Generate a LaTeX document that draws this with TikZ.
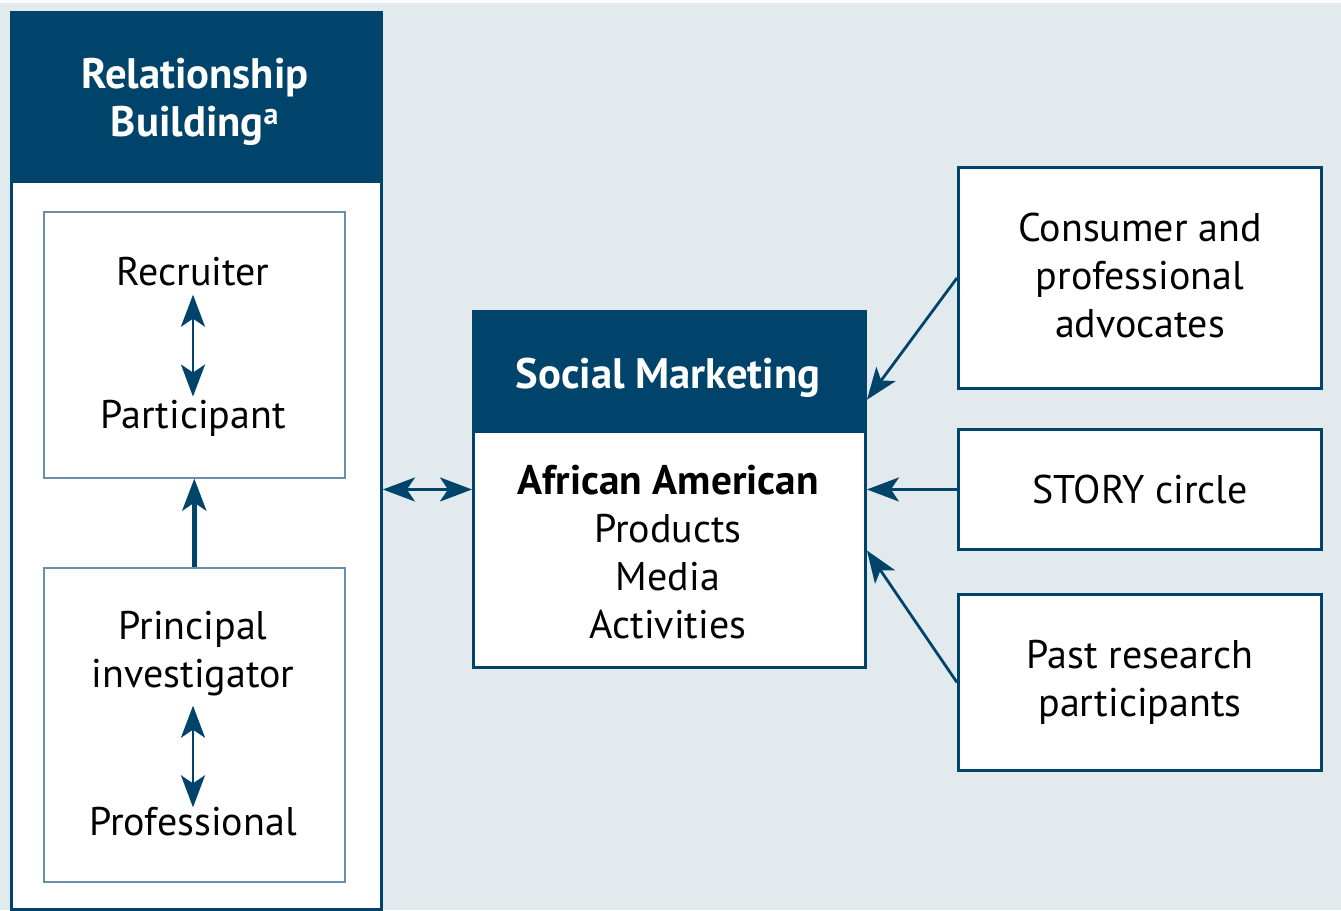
\documentclass[tikz,border=0pt]{standalone}
\usepackage{fontspec}
\setmainfont{PT Sans}
\usetikzlibrary{arrows.meta,calc}
\definecolor{navy}{HTML}{00446B}
\definecolor{panel}{HTML}{E3EAEE}
\definecolor{thinedge}{HTML}{6A8FA9}
\begin{document}
\begin{tikzpicture}[x=0.75pt,y=-0.75pt,
  every node/.style={font=\fontsize{30}{36}\selectfont, text=black},
  frame/.style={draw=navy, line width=2.2pt, fill=white, anchor=north west, inner sep=0pt},
  header/.style={fill=navy, anchor=north west, inner sep=0pt},
  headtext/.style={align=center, inner sep=0pt, text=white,
    font=\fontsize{32}{36}\selectfont\bfseries},
  subbox/.style={draw=thinedge, line width=1.2pt, fill=white, anchor=north west, inner sep=0pt},
  label/.style={align=center, inner sep=0pt},
  tip/.style={Stealth[length=24pt,width=18pt,inset=6pt]},
  link/.style={draw=navy, line width=2.1pt, -{Stealth[length=24pt,width=18pt,inset=6pt]}},
  twoway/.style={draw=navy, line width=2.1pt,
    {Stealth[length=24pt,width=18pt,inset=6pt]}-{Stealth[length=24pt,width=18pt,inset=6pt]}},
  bold link/.style={draw=navy, line width=3.6pt, -{Stealth[length=24pt,width=18pt,inset=6pt]}}
]
\useasboundingbox (0,0) rectangle (1341,910);
\fill[panel] (0,3) rectangle (1341,910);

% Relationship building column
\node[frame, minimum width=370*0.75pt, minimum height=897*0.75pt] (rb) at (10,11) {};
\node[header, minimum width=370*0.75pt, minimum height=172*0.75pt] (rbh) at (10,11) {};
\node[headtext] (rbt) at (195,102) {Relationship\\Building\textsuperscript{a}};

\node[subbox, minimum width=301*0.75pt, minimum height=266*0.75pt] (upper) at (43,211) {};
\node[subbox, minimum width=301*0.75pt, minimum height=314*0.75pt] (lower) at (43,567) {};

\node[label] (rec) at (193,272) {Recruiter};
\node[label] (part) at (193,418) {Participant};
\node[label] (pi) at (193,654) {Principal\\investigator};
\node[label] (prof) at (193,822) {Professional};

\draw[twoway] ($(rec.south)+(0,8)$) -- ($(part.north)+(0,-3)$);
\draw[twoway] ($(pi.south)+(0,9)$) -- (prof.north);
\draw[bold link] (lower.north) -- (upper.south);

% Social marketing block
\node[frame, minimum width=392*0.75pt, minimum height=356*0.75pt] (sm) at (472,310) {};
\node[header, minimum width=392*0.75pt, minimum height=123*0.75pt] (smh) at (472,310) {};
\node[headtext] (smt) at (668,378) {Social Marketing};
\node[label] (smb) at (668,552) {{\fontsize{31}{36}\selectfont\bfseries African American}\\Products\\Media\\Activities};

% Sources on the right
\node[frame, minimum width=363*0.75pt, minimum height=221*0.75pt] (adv) at (957,166) {};
\node[label] at ($(adv.center)+(0,-2)$) {Consumer and\\professional\\advocates};
\node[frame, minimum width=363*0.75pt, minimum height=120*0.75pt] (story) at (957,428) {};
\node[label] at (story.center) {STORY circle};
\node[frame, minimum width=363*0.75pt, minimum height=176*0.75pt] (past) at (957,593) {};
\node[label] at (past.center) {Past research\\participants};

\draw[link] (adv.west) -- ($(sm.north east)!0.25!(sm.south east)$);
\draw[link] (story.west) -- (story.west -| sm.east);
\draw[link] (past.west) -- ($(sm.north east)!0.67!(sm.south east)$);
\draw[twoway] (story.west -| rb.east) -- (story.west -| sm.west);
\end{tikzpicture}
\end{document}
